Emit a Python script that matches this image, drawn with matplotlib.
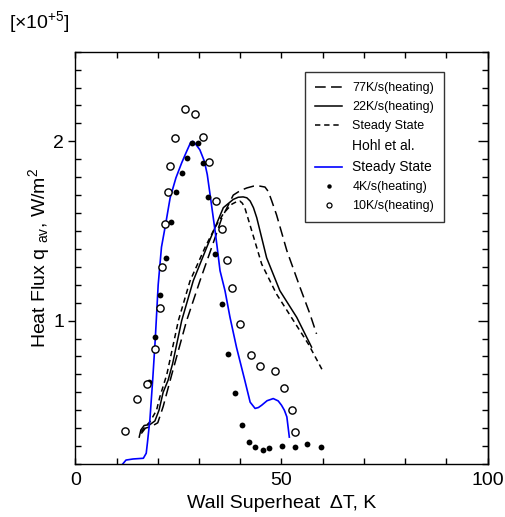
import matplotlib
matplotlib.use("Agg")
import matplotlib.pyplot as plt
from matplotlib.lines import Line2D
from matplotlib.ticker import MultipleLocator, FixedLocator, NullFormatter

plt.rcParams['font.family'] = ['Liberation Sans', 'DejaVu Sans']
plt.rcParams['mathtext.fontset'] = 'custom'
plt.rcParams['mathtext.rm'] = 'Liberation Sans'
plt.rcParams['mathtext.it'] = 'Liberation Sans:italic'

# ---- data ----
x77 = [16.0, 17.0, 18.5, 20.0, 21.3, 23.4, 27.0, 30.2, 33.1, 35.5, 38.3, 40.0, 41.6, 43.2, 44.8, 46.0, 46.8, 47.6, 48.8, 51.3, 54.5, 56.9, 58.5]
y77 = [0.37, 0.40, 0.41, 0.43, 0.52, 0.70, 1.00, 1.22, 1.41, 1.57, 1.70, 1.725, 1.74, 1.75, 1.75, 1.745, 1.72, 1.67, 1.59, 1.39, 1.185, 1.037, 0.926]

x22 = [15.5, 15.9, 16.7, 18.1, 19.3, 20.3, 21.3, 22.5, 23.6, 25.8, 28.6, 31.9, 33.9, 35.9, 38.3, 39.5, 40.7, 41.6, 42.4, 43.2, 44.0, 46.4, 49.6, 53.7, 57.3]
y22 = [0.35, 0.39, 0.415, 0.42, 0.44, 0.50, 0.60, 0.667, 0.76, 1.00, 1.222, 1.41, 1.52, 1.63, 1.676, 1.688, 1.69, 1.685, 1.667, 1.63, 1.574, 1.35, 1.167, 1.018, 0.852]

xss = [16.0, 17.0, 18.1, 19.7, 20.5, 22.2, 25.0, 27.8, 31.5, 33.9, 36.0, 38.0, 39.0, 39.9, 40.5, 41.1, 42.8, 45.2, 48.8, 52.9, 56.5, 60.0]
yss = [0.38, 0.41, 0.435, 0.50, 0.574, 0.70, 1.00, 1.22, 1.41, 1.52, 1.60, 1.65, 1.662, 1.667, 1.655, 1.63, 1.50, 1.315, 1.148, 1.00, 0.87, 0.72]

x_hohl = [11.5, 12.3, 14.0, 16.5, 17.2, 17.5, 18.1, 18.8, 19.4, 20.1, 20.9, 21.9, 23.0, 24.4, 25.8, 27.0, 28.0, 28.5, 29.0, 30.2, 31.3, 32.0, 32.9, 33.9, 34.4, 35.1, 36.3, 37.5, 39.1, 41.1, 42.4, 43.6, 44.4, 45.2, 46.5, 48.0, 49.2, 50.0, 50.7, 51.3, 51.9]
y_hohl = [0.20, 0.222, 0.228, 0.232, 0.26, 0.32, 0.45, 0.68, 0.90, 1.20, 1.41, 1.537, 1.685, 1.796, 1.88, 1.944, 1.995, 2.00, 1.99, 1.953, 1.889, 1.815, 1.667, 1.50, 1.41, 1.278, 1.167, 1.02, 0.85, 0.667, 0.545, 0.51, 0.515, 0.528, 0.553, 0.565, 0.552, 0.528, 0.50, 0.463, 0.35]

x4 = [17.9, 19.3, 20.5, 21.9, 23.1, 24.4, 25.8, 27.0, 28.2, 29.7, 31.0, 32.3, 33.9, 35.6, 37.1, 38.7, 40.5, 42.2, 43.6, 45.4, 47.0, 50.1, 53.3, 56.2, 59.6]
y4 = [0.66, 0.907, 1.14, 1.35, 1.55, 1.715, 1.826, 1.907, 1.99, 1.99, 1.88, 1.69, 1.374, 1.09, 0.815, 0.598, 0.42, 0.32, 0.294, 0.28, 0.287, 0.30, 0.296, 0.31, 0.293]

x10 = [12.0, 15.0, 17.4, 19.3, 20.5, 21.1, 21.8, 22.5, 23.0, 24.1, 26.5, 29.0, 30.9, 32.4, 34.1, 35.6, 36.8, 38.1, 40.0, 42.6, 44.8, 48.4, 50.7, 52.6, 53.3]
y10 = [0.385, 0.56, 0.645, 0.84, 1.07, 1.30, 1.54, 1.72, 1.86, 2.02, 2.18, 2.15, 2.025, 1.885, 1.665, 1.51, 1.34, 1.18, 0.98, 0.81, 0.746, 0.717, 0.626, 0.50, 0.38]

labels = ['77K/s(heating)', '22K/s(heating)', 'Steady State', 'Hohl et al.', 'Steady State', '4K/s(heating)', '10K/s(heating)']
xticks_lab = [0, 50, 100]
yticks_lab = [1, 2]

# ---- figure ----
fig = plt.figure(figsize=(5.06, 5.17), dpi=100)
ax = fig.add_axes([0.1488, 0.1025, 0.8150, 0.7975])

ax.plot(x77, y77, color='black', lw=1.1, dashes=(7, 3.5))
ax.plot(x22, y22, color='black', lw=1.1)
ax.plot(xss, yss, color='black', lw=1.1, dashes=(3.5, 2.5))
ax.plot(x_hohl, y_hohl, color='#0000ff', lw=1.2)
ax.plot(x4, y4, 'o', color='black', ms=4.2, mew=0)
ax.plot(x10, y10, 'o', mfc='white', mec='black', ms=5.2, mew=1.0)

ax.set_xlim(0, 100)
ax.set_ylim(0.2, 2.5)

for s in ax.spines.values():
    s.set_linewidth(1.0)

ax.xaxis.set_major_locator(FixedLocator(xticks_lab))
ax.xaxis.set_minor_locator(MultipleLocator(10))
ax.yaxis.set_major_locator(FixedLocator(yticks_lab))
ax.yaxis.set_minor_locator(MultipleLocator(0.1))
ax.tick_params(axis='x', which='both', direction='in', top=True, length=4, width=1, labelsize=14, pad=6)
ax.tick_params(axis='y', which='minor', direction='in', right=True, length=4, width=1)
ax.tick_params(axis='y', which='major', direction='out', right=False, length=5, width=1, labelsize=14, pad=3)

sec = ax.secondary_yaxis('right')
sec.yaxis.set_major_locator(FixedLocator(yticks_lab))
sec.yaxis.set_major_formatter(NullFormatter())
sec.tick_params(axis='y', which='major', direction='in', length=7, width=1)
sec.spines['right'].set_linewidth(1.0)

ax.set_xlabel('Wall Superheat  \u0394T, K', fontsize=14, labelpad=4)
ax.set_ylabel('Heat Flux q $_{\\rm av}$, W/m$^2$', fontsize=14, labelpad=1)

fig.text(0.018, 0.945, '[\u00d710$^{+5}$]', fontsize=14, ha='left', va='baseline')

handles = [
    Line2D([], [], color='black', lw=1.1, dashes=(7, 3.5)),
    Line2D([], [], color='black', lw=1.1),
    Line2D([], [], color='black', lw=1.1, dashes=(3.5, 2.5)),
    Line2D([], [], color='none', lw=0),
    Line2D([], [], color='#0000ff', lw=1.2),
    Line2D([], [], ls='none', marker='o', color='black', ms=3.2, mew=0),
    Line2D([], [], ls='none', marker='o', mfc='white', mec='black', ms=3.6, mew=0.9),
]
leg = ax.legend(handles, labels, loc='upper left', bbox_to_anchor=(0.557, 0.951),
                fontsize=9, frameon=True, fancybox=False, edgecolor='black',
                handlelength=2.2, handletextpad=0.8, labelspacing=0.56,
                borderpad=0.8, borderaxespad=0)
leg.get_frame().set_linewidth(1.0)
texts = leg.get_texts()
texts[3].set_fontsize(10)
texts[4].set_fontsize(10)

fig.savefig('out.png', dpi=100)
